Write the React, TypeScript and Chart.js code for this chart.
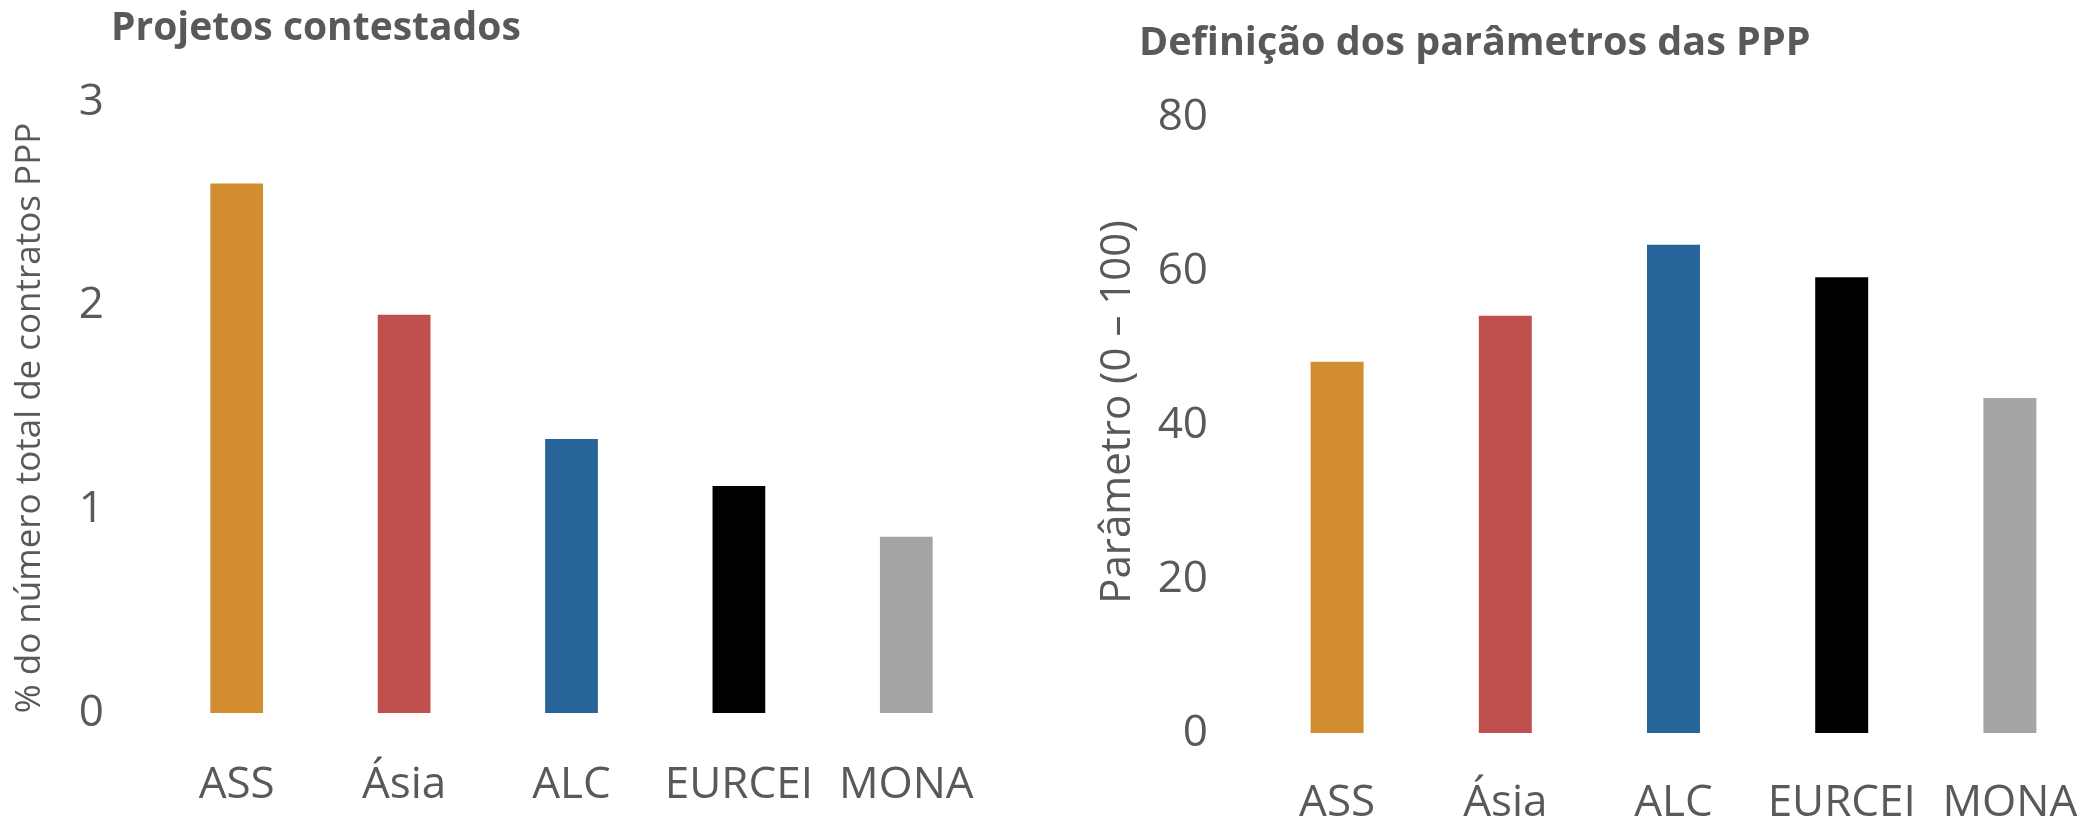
import React, { useEffect, useRef } from "react";
import { Chart, registerables } from "chart.js";

Chart.register(...registerables);

// ---- data ----
const categories = ["ASS", "Ásia", "ALC", "EURCEI", "MONA"];
const contestedValues = [2.6, 1.955, 1.345, 1.115, 0.865];
const parameterValues = [48.2, 54.2, 63.4, 59.2, 43.5];
const contestedTicks = [0, 1, 2, 3];
const parameterTicks = [0, 20, 40, 60, 80];
const barColors = ["#D38D31", "#C0504D", "#27649A", "#000000", "#A5A5A5"];

const leftTitle = "Projetos contestados";
const rightTitle = "Definição dos parâmetros das PPP";
const leftAxisTitle = "% do número total de contratos PPP";
const rightAxisTitle = "Parâmetro (0 – 100)";

const TEXT = "#595959";
const FONT = "'Open Sans', 'DejaVu Sans', sans-serif";

// draws the panel heading and the rotated value-axis title
const panelText = {
  id: "panelText",
  afterDraw(chart: any, _args: any, opts: any) {
    if (!opts) return;
    const ctx = chart.ctx;
    ctx.save();
    ctx.fillStyle = opts.color;
    ctx.font = opts.titleFont;
    ctx.textAlign = "left";
    ctx.textBaseline = "alphabetic";
    ctx.fillText(opts.title, opts.titleX, opts.titleY);
    ctx.restore();

    ctx.save();
    ctx.fillStyle = opts.color;
    ctx.font = opts.axisFont;
    ctx.translate(opts.axisX, opts.axisY);
    ctx.rotate(-Math.PI / 2);
    ctx.textAlign = "center";
    ctx.textBaseline = "middle";
    ctx.fillText(opts.axisTitle, 0, 0);
    ctx.restore();
  },
};

type Cfg = {
  values: number[];
  ticks: number[];
  title: string;
  titleX: number;
  titleY: number;
  titleSize: number;
  axisTitle: string;
  axisTitleSize: number;
  axisX: number;
  axisY: number;
  yWidth: number;
  yTickPad: number;
  xHeight: number;
  xLineHeight: number;
  padding: { left: number; right: number; top: number; bottom: number };
};

function makeConfig(c: Cfg): any {
  return {
    type: "bar",
    data: {
      labels: categories,
      datasets: [
        {
          data: c.values,
          backgroundColor: barColors,
          borderWidth: 0,
          barPercentage: 0.315,
          categoryPercentage: 1,
        },
      ],
    },
    plugins: [panelText],
    options: {
      responsive: false,
      animation: false,
      devicePixelRatio: 1,
      layout: { padding: c.padding },
      plugins: {
        legend: { display: false },
        tooltip: { enabled: false },
        title: { display: false },
        panelText: {
          color: TEXT,
          title: c.title,
          titleX: c.titleX,
          titleY: c.titleY,
          titleFont: `bold ${c.titleSize}px ${FONT}`,
          axisTitle: c.axisTitle,
          axisFont: `${c.axisTitleSize}px ${FONT}`,
          axisX: c.axisX,
          axisY: c.axisY,
        },
      },
      scales: {
        x: {
          grid: { display: false, drawTicks: false },
          border: { display: false },
          ticks: {
            color: TEXT,
            padding: 0,
            font: { family: FONT, size: 44, lineHeight: c.xLineHeight },
            maxRotation: 0,
            autoSkip: false,
          },
          afterFit: (s: any) => {
            s.height = c.xHeight;
          },
        },
        y: {
          min: 0,
          max: c.ticks[c.ticks.length - 1],
          grid: { display: false, drawTicks: false },
          border: { display: false },
          afterBuildTicks: (s: any) => {
            s.ticks = c.ticks.map((v) => ({ value: v }));
          },
          ticks: {
            color: TEXT,
            padding: c.yTickPad,
            font: { family: FONT, size: 44, lineHeight: 1.2 },
          },
          afterFit: (s: any) => {
            s.width = c.yWidth;
          },
        },
      },
    },
  };
}

function BarPanel({ cfg, left }: { cfg: Cfg; left: number }) {
  const ref = useRef<HTMLCanvasElement | null>(null);
  useEffect(() => {
    if (!ref.current) return;
    const chart = new Chart(ref.current, makeConfig(cfg));
    return () => chart.destroy();
  }, []);
  return (
    <div style={{ position: "absolute", left, top: 0, width: 1048, height: 820 }}>
      <canvas ref={ref} width={1048} height={820} style={{ display: "block", width: 1048, height: 820 }} />
    </div>
  );
}

const leftCfg: Cfg = {
  values: contestedValues,
  ticks: contestedTicks,
  title: leftTitle,
  titleX: 111,
  titleY: 40,
  titleSize: 39,
  axisTitle: leftAxisTitle,
  axisTitleSize: 35,
  axisX: 30,
  axisY: 418,
  yWidth: 153,
  yTickPad: 49,
  xHeight: 107,
  xLineHeight: 3.3,
  padding: { left: 0, right: 58, top: 102, bottom: 0 },
};

const rightCfg: Cfg = {
  values: parameterValues,
  ticks: parameterTicks,
  title: rightTitle,
  titleX: 91,
  titleY: 55,
  titleSize: 39.5,
  axisTitle: rightAxisTitle,
  axisTitleSize: 42,
  axisX: 70,
  axisY: 412,
  yWidth: 205,
  yTickPad: 45,
  xHeight: 87,
  xLineHeight: 3.2,
  padding: { left: 0, right: 2, top: 117, bottom: 0 },
};

export default function App() {
  return (
    <div style={{ position: "absolute", left: 0, top: 0, width: 2096, height: 820, background: "#ffffff", overflow: "hidden" }}>
      <BarPanel cfg={leftCfg} left={0} />
      <BarPanel cfg={rightCfg} left={1048} />
    </div>
  );
}
